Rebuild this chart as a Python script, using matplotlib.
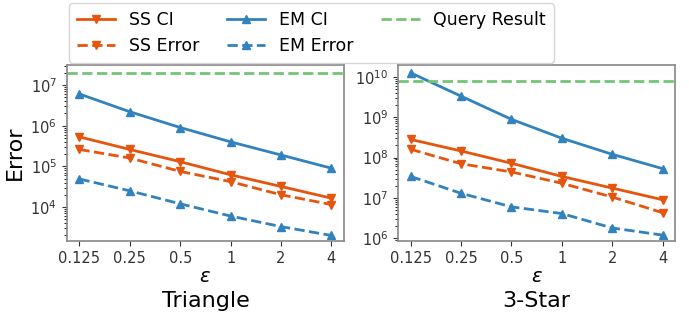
import numpy as np
import matplotlib
matplotlib.use("Agg")
import matplotlib.pyplot as plt

eps = [0.125, 0.25, 0.5, 1, 2, 4]
eps_labels = ["0.125", "0.25", "0.5", "1", "2", "4"]

# Triangle
tri_ss_ci = [5.3e5, 2.6e5, 1.3e5, 6.2e4, 3.2e4, 1.65e4]
tri_ss_err = [2.6e5, 1.6e5, 7.5e4, 4.2e4, 2.0e4, 1.15e4]
tri_em_ci = [6.0e6, 2.2e6, 9.0e5, 4.0e5, 1.9e5, 9.0e4]
tri_em_err = [4.9e4, 2.5e4, 1.2e4, 6.0e3, 3.3e3, 2.0e3]
tri_query = 2.0e7

# 3-Star
star_ss_ci = [2.8e8, 1.45e8, 7.2e7, 3.4e7, 1.75e7, 9.0e6]
star_ss_err = [1.6e8, 7.0e7, 4.4e7, 2.3e7, 1.05e7, 4.3e6]
star_em_ci = [1.25e10, 3.3e9, 8.8e8, 3.0e8, 1.2e8, 5.3e7]
star_em_err = [3.4e7, 1.3e7, 6.0e6, 4.1e6, 1.8e6, 1.2e6]
star_query = 8.0e9

c_ss = "#e6550d"
c_em = "#3182bd"
c_q = "#74c476"

fig, axes = plt.subplots(1, 2, figsize=(6.89, 3.25), dpi=100)
plt.subplots_adjust(left=0.097, right=0.98, top=0.80, bottom=0.258, wspace=0.195)

panels = [
    (axes[0], tri_ss_ci, tri_ss_err, tri_em_ci, tri_em_err, tri_query, "Triangle"),
    (axes[1], star_ss_ci, star_ss_err, star_em_ci, star_em_err, star_query, "3-Star"),
]

for ax, ssci, sserr, emci, emerr, q, name in panels:
    ax.plot(eps, ssci, "-", color=c_ss, marker="v", markersize=6, lw=2, label="SS CI")
    ax.plot(eps, sserr, "--", color=c_ss, marker="v", markersize=6, lw=2, label="SS Error")
    ax.plot(eps, emci, "-", color=c_em, marker="^", markersize=6, lw=2, label="EM CI")
    ax.plot(eps, emerr, "--", color=c_em, marker="^", markersize=6, lw=2, label="EM Error")
    ax.axhline(q, color=c_q, ls="--", lw=2, label="Query Result")
    ax.set_xscale("log", base=2)
    ax.set_yscale("log")
    ax.set_xticks(eps)
    ax.set_xticklabels(eps_labels)
    ax.minorticks_off()
    ax.yaxis.set_minor_locator(matplotlib.ticker.LogLocator(base=10, subs=np.arange(2, 10)))
    ax.yaxis.set_minor_formatter(matplotlib.ticker.NullFormatter())
    ax.tick_params(labelsize=10.5, colors="#333333")
    for s in ax.spines.values():
        s.set_color("#888888")
        s.set_linewidth(1.2)
    ax.set_xlabel(r"$\varepsilon$", fontsize=14, labelpad=1)
    ax.text(0.5, -0.34, name, transform=ax.transAxes, ha="center", va="center", fontsize=16)

axes[0].set_ylim(1.45e3, 3.1e7)
axes[1].set_ylim(8.5e5, 1.95e10)
axes[0].set_ylabel("Error", fontsize=16)

h, l = axes[0].get_legend_handles_labels()
fig.legend(h, l, loc="upper left", bbox_to_anchor=(0.1, 0.99), borderaxespad=0, ncol=3,
           fontsize=12.5, frameon=True, handlelength=2.2, handletextpad=0.8,
           columnspacing=1.6, borderpad=0.45, labelspacing=0.45, edgecolor="#cccccc")

fig.savefig("out.png", dpi=100)
